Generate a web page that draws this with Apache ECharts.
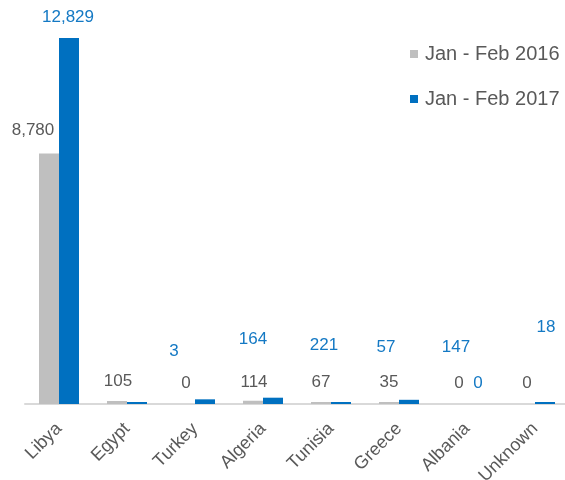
<!DOCTYPE html>
<html>
<head>
<meta charset="utf-8">
<script src="https://cdn.jsdelivr.net/npm/echarts@6/dist/echarts.min.js"></script>
<style>
  html, body { margin: 0; padding: 0; background: #fff; }
  #main { width: 565px; height: 480px; }
</style>
</head>
<body>
<div id="main"></div>
<script>
// 数据
var countries = ['Libya', 'Egypt', 'Turkey', 'Algeria', 'Tunisia', 'Greece', 'Albania', 'Unknown'];
var seriesNames = ['Jan - Feb 2016', 'Jan - Feb 2017'];
var arrivals2016 = [8780, 105, 0, 114, 67, 35, 0, 0];
var arrivals2017 = [12829, 3, 164, 221, 57, 147, 0, 18];

// 标签偏移 (原图标签位置不规则)
var shift2016 = [[-16, -4], [1, 0], [1, 1], [1, 1], [0, 0], [0, 0], [2, 1], [2, 1]];
var shift2017 = [[-1, -1], [37, -31], [48, -41], [51, -33], [45, -35], [47, -33], [1, 1], [1, -55]];

function fmt(v) {
    return String(v).replace(/\B(?=(\d{3})+(?!\d))/g, ',');
}

function buildData(values, shifts) {
    var out = [];
    for (var i = 0; i < values.length; i++) {
        var item = { value: values[i], label: { offset: shifts[i] } };
        if (values[i] === 0) {
            item.itemStyle = { color: 'rgba(0,0,0,0)' }; //零值不画柱
        }
        out.push(item);
    }
    return out;
}

var chart = echarts.init(document.getElementById('main'));
var font = '"Liberation Sans", Arial, sans-serif';

var option = {
    animation: false,
    legend: {
        orient: 'vertical',
        left: 405,
        top: 39,
        itemWidth: 8,
        itemHeight: 8,
        itemGap: 25,
        icon: 'rect',
        data: seriesNames,
        textStyle: {
            fontFamily: font,
            fontSize: 20,
            color: '#595959',
            padding: [0, 0, 0, 2]
        }
    },
    grid: {
        left: 25,
        right: -4,
        top: 38,
        bottom: 76,
        containLabel: false,
        outerBoundsMode: 'none'
    },
    xAxis: {
        type: 'category',
        data: countries,
        axisLine: { lineStyle: { color: '#D9D9D9', width: 2 } },
        axisTick: { length: 5, lineStyle: { color: '#D9D9D9', width: 2 } },
        axisLabel: {
            rotate: 45,
            margin: 22,
            interval: 0,
            fontFamily: font,
            fontSize: 18,
            color: '#595959'
        }
    },
    yAxis: {
        type: 'value',
        show: false,
        min: 0,
        max: 'dataMax'
    },
    series: [{
        name: seriesNames[0],
        type: 'bar',
        barWidth: 20,
        barGap: '0%',
        barMinHeight: 2,
        itemStyle: { color: '#BFBFBF' },
        label: {
            show: true,
            position: 'top',
            distance: 11,
            fontFamily: font,
            fontSize: 17,
            color: '#595959',
            formatter: function (p) { return fmt(p.value); }
        },
        data: buildData(arrivals2016, shift2016)
    }, {
        name: seriesNames[1],
        type: 'bar',
        barWidth: 20,
        barGap: '0%',
        barMinHeight: 2,
        itemStyle: { color: '#0070C0' },
        label: {
            show: true,
            position: 'top',
            distance: 11,
            fontFamily: font,
            fontSize: 17,
            color: '#1479C4',
            formatter: function (p) { return fmt(p.value); }
        },
        data: buildData(arrivals2017, shift2017)
    }]
};

chart.setOption(option);
</script>
</body>
</html>
